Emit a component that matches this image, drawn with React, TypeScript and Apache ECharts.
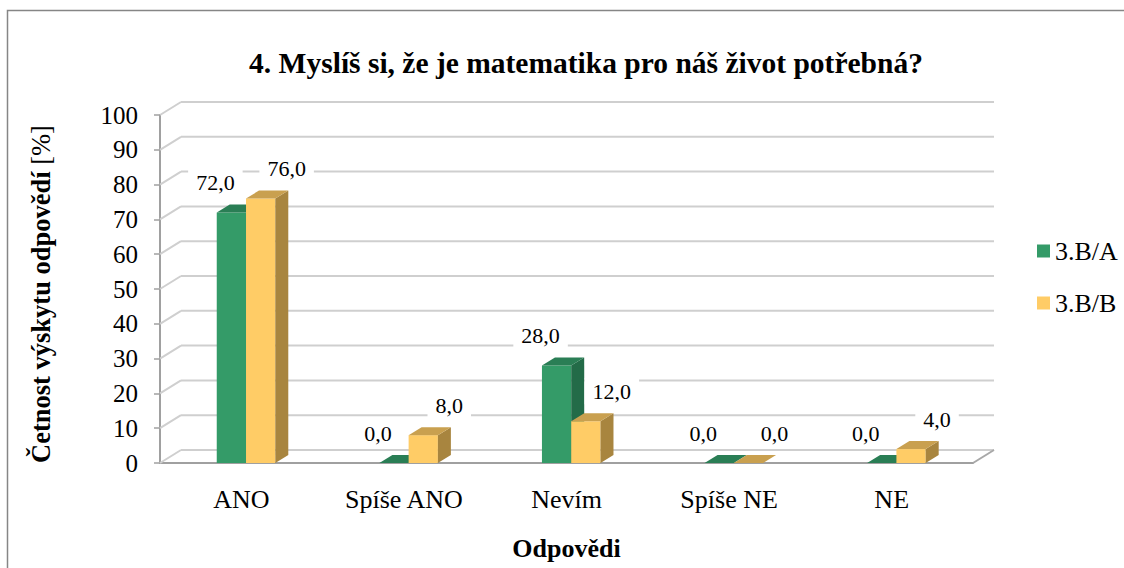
import React, { useEffect, useRef } from "react";
import * as echarts from "echarts";

const categories = ["ANO", "Spíše ANO", "Nevím", "Spíše NE", "NE"];
const seriesNames = ["3.B/A", "3.B/B"];
const valuesA = [72, 0, 28, 0, 0];
const valuesB = [76, 8, 12, 0, 4];
const yTicks = [0, 10, 20, 30, 40, 50, 60, 70, 80, 90, 100];

const FONT = "Liberation Serif";
const WALL_DX = 21;
const WALL_DY = -13;
const BAR_DX = 13;
const BAR_DY = -8;

const GREEN = { front: "#349b68", side: "#236b48", top: "#2a7e55" };
const YELLOW = { front: "#ffcc66", side: "#a8853f", top: "#c9a04f" };

function fmt(v: number) {
  return v.toFixed(1).replace(".", ",");
}

function rt(size: number, bold = false) {
  return { fontFamily: FONT, fontSize: size, fontWeight: bold ? "bold" : "normal", color: "#000" };
}

function barRenderer(colors: any, offsetFrac: number, labelDx: number) {
  return (params: any, api: any) => {
    const idx = api.value(0);
    const v = api.value(1);
    const top = api.coord([idx, v]);
    const base = api.coord([idx, 0]);
    const bw = api.size([1, 0])[0];
    const w = 0.18 * bw;
    const x0 = top[0] + offsetFrac * bw;
    const y0 = base[1];
    const y1 = top[1];
    return {
      type: "group",
      children: [
        {
          type: "rect",
          shape: { x: x0, y: y1, width: w, height: y0 - y1 },
          style: { fill: colors.front },
        },
        {
          type: "polygon",
          shape: {
            points: [
              [x0 + w, y1],
              [x0 + w + BAR_DX, y1 + BAR_DY],
              [x0 + w + BAR_DX, y0 + BAR_DY],
              [x0 + w, y0],
            ],
          },
          style: { fill: colors.side },
        },
        {
          type: "polygon",
          shape: {
            points: [
              [x0, y1],
              [x0 + BAR_DX, y1 + BAR_DY],
              [x0 + w + BAR_DX, y1 + BAR_DY],
              [x0 + w, y1],
            ],
          },
          style: { fill: colors.top },
        },
        {
          type: "text",
          z2: 10,
          style: {
            text: fmt(v),
            x: x0 + w / 2 + labelDx,
            y: y1 - 30,
            align: "center",
            verticalAlign: "middle",
            fontSize: 22,
            fontFamily: FONT,
            fill: "#000",
            backgroundColor: "#fff",
            padding: [2, 8],
          },
        },
      ],
    };
  };
}

function wallRenderer(params: any, api: any) {
  const v = api.value(0);
  const cs = params.coordSys;
  const y = api.coord([0, v])[1];
  const left = cs.x;
  const right = cs.x + cs.width;
  const lineStyle = { stroke: "#cfcfcf", lineWidth: 2 };
  const children: any[] = [
    {
      type: "line",
      shape: { x1: left, y1: y, x2: left + WALL_DX, y2: y + WALL_DY },
      style: lineStyle,
    },
    {
      type: "line",
      shape: { x1: left + WALL_DX, y1: y + WALL_DY, x2: right + WALL_DX, y2: y + WALL_DY },
      style: lineStyle,
    },
  ];
  if (v === 0) {
    children.push({
      type: "line",
      shape: { x1: right, y1: y, x2: right + WALL_DX, y2: y + WALL_DY },
      style: { stroke: "#a8a8a8", lineWidth: 2 },
    });
  }
  return { type: "group", children };
}

export default function App() {
  const ref = useRef<HTMLDivElement>(null);
  useEffect(() => {
    if (!ref.current) return;
    const chart = echarts.init(ref.current, undefined, { renderer: "svg" });
    chart.setOption({
      animation: false,
      color: [GREEN.front, YELLOW.front],
      textStyle: { fontFamily: FONT },
      title: {
        text: "4. Myslíš si, že je matematika pro náš život potřebná?",
        left: 581,
        top: 43,
        textAlign: "center",
        textStyle: rt(29.5, true),
      },
      legend: {
        orient: "vertical",
        left: 1032,
        top: 233,
        itemWidth: 13,
        itemHeight: 13,
        itemGap: 26,
        icon: "rect",
        data: seriesNames,
        textStyle: rt(26),
      },
      graphic: [
        {
          type: "rect",
          shape: { x: 7.5, y: 10.5, width: 1140, height: 600 },
          style: { fill: "none", stroke: "#868686", lineWidth: 1.5 },
          silent: true,
        },
      ],
      grid: { left: 160, top: 115, width: 813, height: 348 },
      xAxis: {
        type: "category",
        data: categories,
        axisLine: { lineStyle: { color: "#a0a0a0", width: 2 } },
        axisTick: { length: 7, lineStyle: { color: "#a0a0a0", width: 1.5 } },
        axisLabel: { ...rt(26), margin: 23, interval: 0 },
        name: "Odpovědi",
        nameLocation: "middle",
        nameGap: 72,
        nameTextStyle: rt(26, true),
      },
      yAxis: {
        type: "value",
        min: 0,
        max: 100,
        interval: 10,
        splitLine: { show: false },
        axisLine: { show: true, lineStyle: { color: "#a0a0a0", width: 2 } },
        axisTick: { show: true, length: 6, lineStyle: { color: "#a0a0a0", width: 1.5 } },
        axisLabel: {
          ...rt(25),
          margin: 22,
          formatter: (v: number) => (yTicks.includes(v) ? String(v) : ""),
        },
        name: "{b|Četnost výskytu odpovědí} {n|[%]}",
        nameLocation: "middle",
        nameRotate: 90,
        nameGap: 106,
        nameTextStyle: {
          ...rt(26.5),
          padding: [0, 10, 0, 0],
          rich: {
            b: rt(26.5, true),
            n: rt(26.5),
          },
        },
      },
      series: [
        {
          type: "custom",
          name: "wall",
          silent: true,
          z: 1,
          renderItem: wallRenderer,
          data: yTicks.map((t) => [t]),
          encode: { y: 0 },
        },
        {
          type: "custom",
          name: seriesNames[0],
          z: 3,
          itemStyle: { color: GREEN.front },
          renderItem: barRenderer(GREEN, -0.151, -16),
          data: valuesA.map((v, i) => [i, v]),
          encode: { x: 0, y: 1 },
        },
        {
          type: "custom",
          name: seriesNames[1],
          z: 4,
          itemStyle: { color: YELLOW.front },
          renderItem: barRenderer(YELLOW, 0.029, 26),
          data: valuesB.map((v, i) => [i, v]),
          encode: { x: 0, y: 1 },
        },
      ],
    });
    return () => chart.dispose();
  }, []);
  return (
    <div
      ref={ref}
      style={{ position: "fixed", left: 0, top: 0, width: 1124, height: 568, background: "#fff" }}
    />
  );
}
